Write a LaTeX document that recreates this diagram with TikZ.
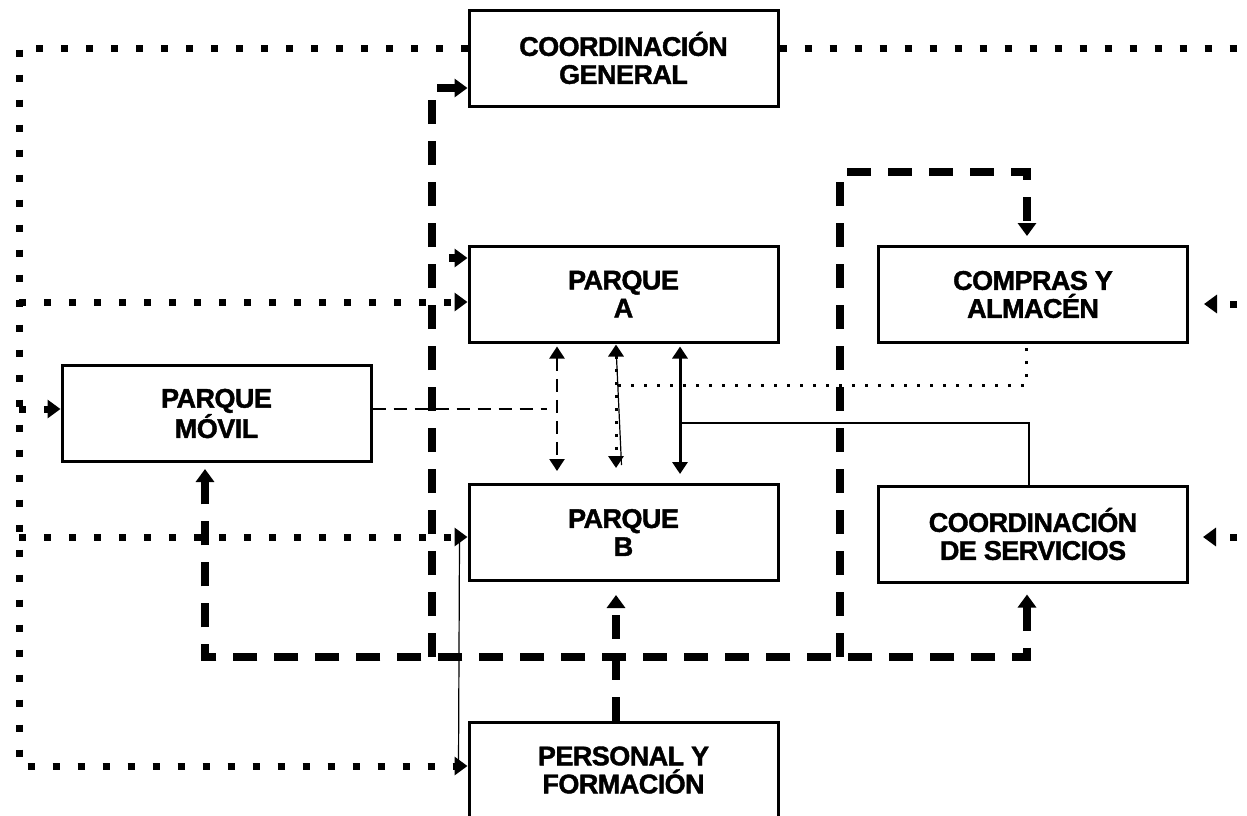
\documentclass[tikz,border=0pt]{standalone}
\usepackage{fontspec}
\setmainfont{Liberation Sans}[BoldFeatures={FakeBold=1.5,LetterSpace=-2}]
\usepackage{tikz}
\usetikzlibrary{arrows.meta}
\usetikzlibrary{calc}

\begin{document}
\begin{tikzpicture}[x=1pt,y=-1pt,
	caja/.style={draw,line width=3pt,minimum width=309pt,minimum height=96pt,align=center,inner sep=0pt,
		font=\bfseries\fontsize{27}{28}\selectfont},
	puntos/.style={line width=7pt,dash pattern=on 7pt off 18pt},
	rayas/.style={line width=7.5pt,dash pattern=on 24pt off 17pt},
	rayitas/.style={line width=2.3pt,dash pattern=on 13pt off 8pt},
	puntitos/.style={line width=3pt,dash pattern=on 3pt off 10pt},
	flecha/.style={-{Triangle[length=13pt,width=18pt]}},
	flechas/.style={{Triangle[length=13pt,width=18pt]}-{Triangle[length=13pt,width=18pt]}},
	dobles/.style={{Triangle[length=12pt,width=15pt]}-{Triangle[length=12pt,width=15pt]}}]
		
		\useasboundingbox (0,0) rectangle (1247,815);
		
		\node [caja] (CG) at (623.5,58) {COORDINACIÓN\\GENERAL};
		\node [caja] (PA) at (623.5,294) {PARQUE\\A};
		\node [caja] (CA) at (1033,294.5) {COMPRAS Y\\ALMACÉN};
		\node [caja] (PM) at (216.5,413.5) {PARQUE\\MÓVIL};
		\node [caja] (PB) at (623.5,532.5) {PARQUE\\B};
		\node [caja] (CS) at (1033,534) {COORDINACIÓN\\DE SERVICIOS};
		\node [caja] (PF) at (623.5,770) {PERSONAL Y\\FORMACIÓN};
		
		\coordinate (L1) at (19,48) ;
		\coordinate (L2) at (19,766) ;
		\coordinate (R1) at (1262,48) ;
		\coordinate (R2) at (1262,537) ;
		\coordinate (a1) at ($(PA.west)+(0,8)$) ;
		\coordinate (b1) at ($(PB.west)+(0,4.5)$) ;
		\coordinate (c1) at ($(CA.east)+(15,9.5)$) ;
		\coordinate (c2) at ($(CS.east)+(14,3)$) ;
		
		\coordinate (D0) at (205,657) ;
		\coordinate (D1) at (432,88) ;
		\coordinate (D2) at (432,657) ;
		\coordinate (D3) at (840,657) ;
		\coordinate (D4) at (840,172) ;
		\coordinate (D5) at (1027,172) ;
		\coordinate (D6) at (1027,657) ;
		\coordinate (D7) at (449,258) ;
		
		\coordinate (M1) at (547,409) ;
		\coordinate (P0) at (618,385) ;
		\coordinate (P1) at (1026,385) ;
		\coordinate (S0) at (680,423) ;
		\coordinate (S1) at (1029,423) ;
		
		%puntos
		\draw [puntos,flecha] (CG.west |- L1)--(L1)--(L2)--(PF.west |- L2);
		\draw [puntos,flecha] (L1 |- a1)--(a1);
		\draw [puntos,flecha] (L1 |- M1)--(PM.west |- M1);
		\draw [puntos,flecha] (L1 |- b1)--(b1);
		\draw [puntos] (CG.east |- R1)--(R1)--(R2);
		\draw [puntos,flecha] (R1 |- c1)--(c1);
		\draw [puntos,flecha] (R2)--(c2);
		
		%rayas
		\draw [rayas,flechas,shorten <=11pt,shorten >=6pt] (D6 |- CS.south)--(D6)--(D0)--(D0 |- PM.south);
		\draw [rayas,flecha] (D2)--(D1)--(CG.west |- D1);
		\draw [rayas,flecha] (D7)--(D7 -| PA.west);
		\draw [rayas,flecha,shorten >=9pt] (D3)--(D4)--(D5)--(D5 |- CA.north);
		\draw [rayas,flecha,shorten >=13pt] ($(PF.north)+(-7.5,0)$)--($(PB.south)+(-7.5,0)$);
		
		\draw [rayitas] (M1 -| PM.east)--(M1);
		\draw [rayitas,dobles] ($(PA.south)+(-66.5,3)$)--($(PB.north)+(-66.5,-12)$);
		\draw [puntitos,dobles] ($(PA.south)+(-7.5,1)$)--($(PB.north)+(-7.5,-15)$);
		\draw [line width=1.2pt] ($(PA.south)+(-7.5,3)$)--($(PB.north)+(-2,-18)$);
		\draw [line width=3pt,dobles] ($(PA.south)+(56.5,3)$)--($(PB.north)+(56.5,-9)$);
		
		\draw [puntitos] (P0)--(P1)--(P1 |- CA.south);
		\draw [line width=2.5pt] (S0)--(S1)--(S1 |- CS.north);
		\draw [line width=1.2pt] ($(b1)+(-8,3)$)--($(PF.west |- L2)+(-9,0)$);
\end{tikzpicture}
\end{document}
